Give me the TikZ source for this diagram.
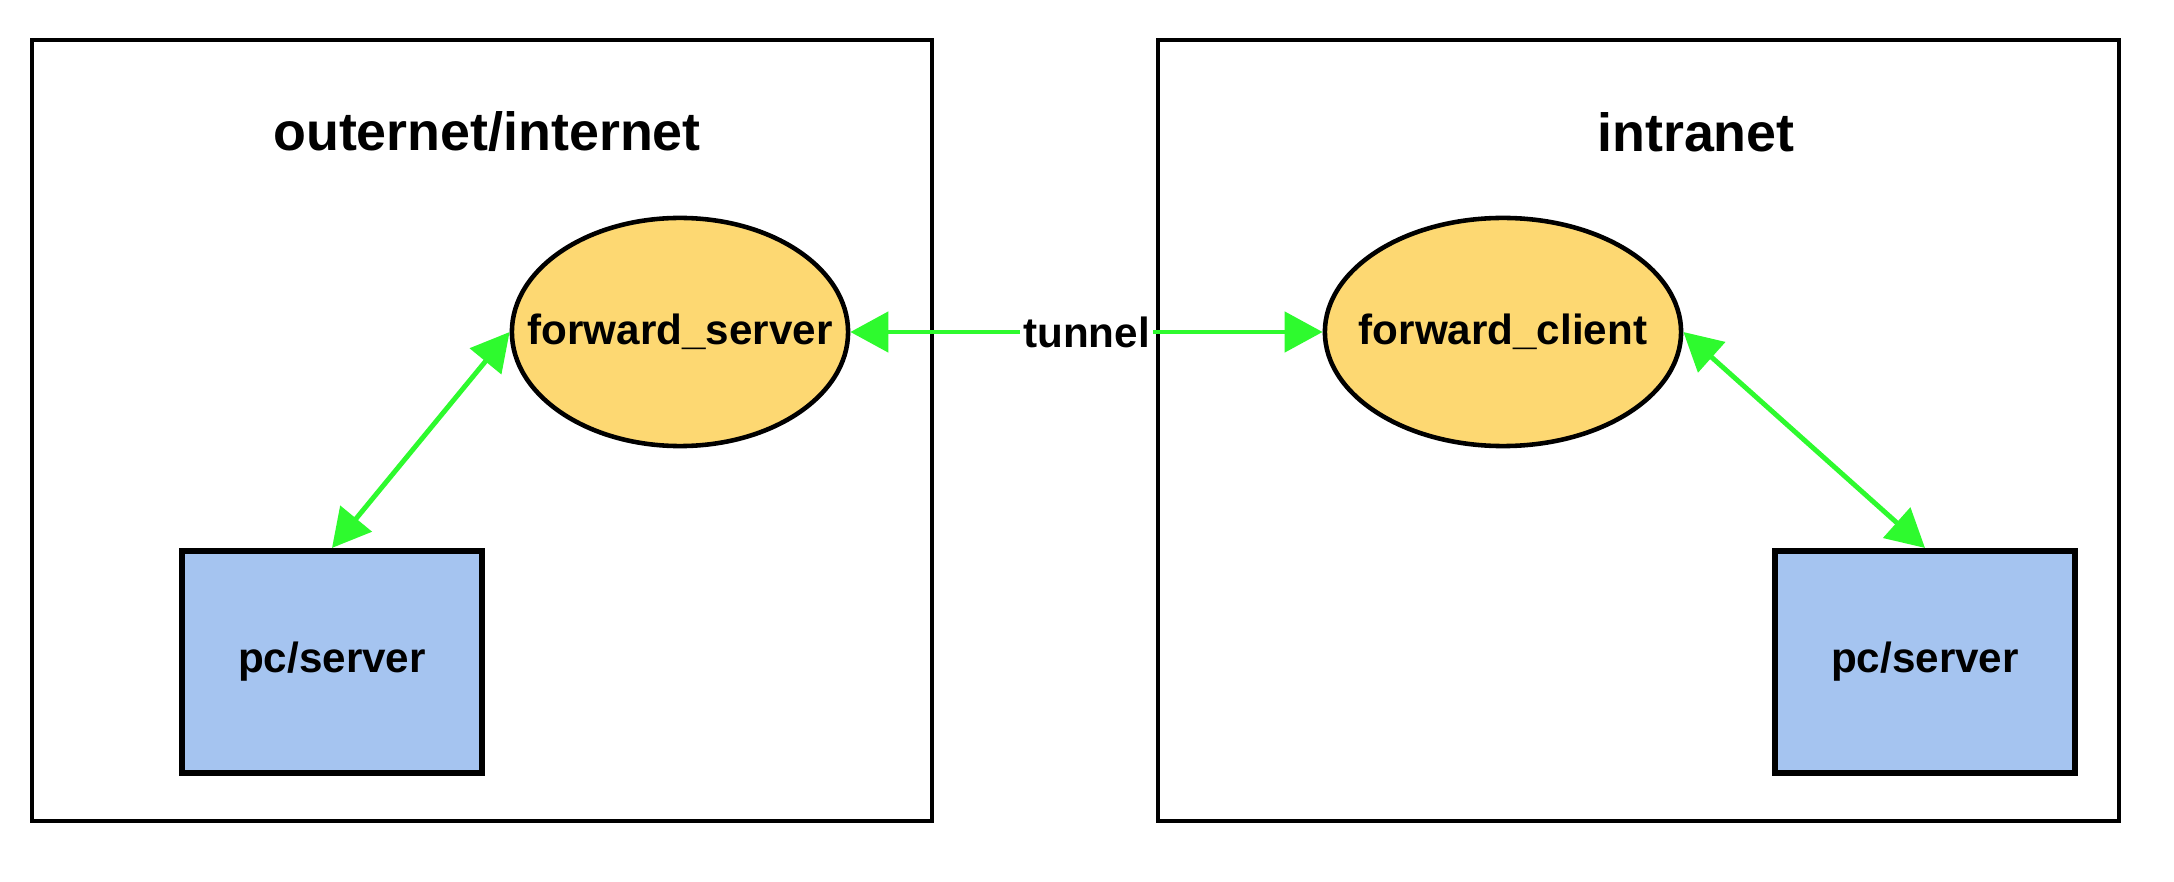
\documentclass[tikz,border=0pt]{standalone}
\usepackage{fontspec}
\setmainfont{Liberation Sans}
\usetikzlibrary{shapes.geometric,arrows.meta}
\definecolor{linkgreen}{RGB}{46,250,46}
\definecolor{fwdfill}{RGB}{253,216,114}
\definecolor{pcfill}{RGB}{165,196,240}
\tikzset{
  zone/.style={draw=black, line width=1.3pt},
  zonetitle/.style={font=\bfseries\fontsize{15.3}{18}\selectfont},
  fwd/.style={ellipse, draw=black, line width=1.3pt, fill=fwdfill, inner xsep=-0.6cm, inner ysep=0pt,
    minimum height=2.28cm, font=\bfseries\fontsize{12}{14}\selectfont},
  pcbox/.style={rectangle, draw=black, line width=1.7pt, fill=pcfill,
    minimum width=2.99cm, minimum height=2.22cm, font=\bfseries\fontsize{12}{14}\selectfont},
  link/.style={draw=linkgreen, line width=1.4pt,
    {Triangle[length=0.38cm,width=0.4cm]}-{Triangle[length=0.38cm,width=0.4cm]}},
  linklabel/.style={fill=white, inner sep=1pt, font=\bfseries\fontsize{12}{14}\selectfont}
}
\begin{document}
\begin{tikzpicture}[x=0.01cm, y=-0.01cm]
  \useasboundingbox (0,0) rectangle (2174,882);
  % the two networks
  \draw[zone] (32,40) rectangle (932,821);
  \draw[zone] (1158,40) rectangle (2119,821);
  \node[zonetitle] (outtitle) at (487,132) {outernet/internet};
  \node[zonetitle] (intitle) at (1696,132) {intranet};
  % forwarders and hosts
  \node[fwd, minimum width=3.36cm] (fserver) at (680,332) {forward\_server};
  \node[fwd, minimum width=3.56cm] (fclient) at (1503,332) {forward\_client};
  \node[pcbox] (pcout) at (332,662) {pc/server};
  \node[pcbox] (pcin) at (1925,662) {pc/server};
  % links
  \draw[link] (fserver.east) -- node[linklabel] {tunnel} (fclient.west);
  \draw[link] (fserver.west) -- (pcout.north);
  \draw[link] (fclient.east) -- (pcin.north);
\end{tikzpicture}
\end{document}
